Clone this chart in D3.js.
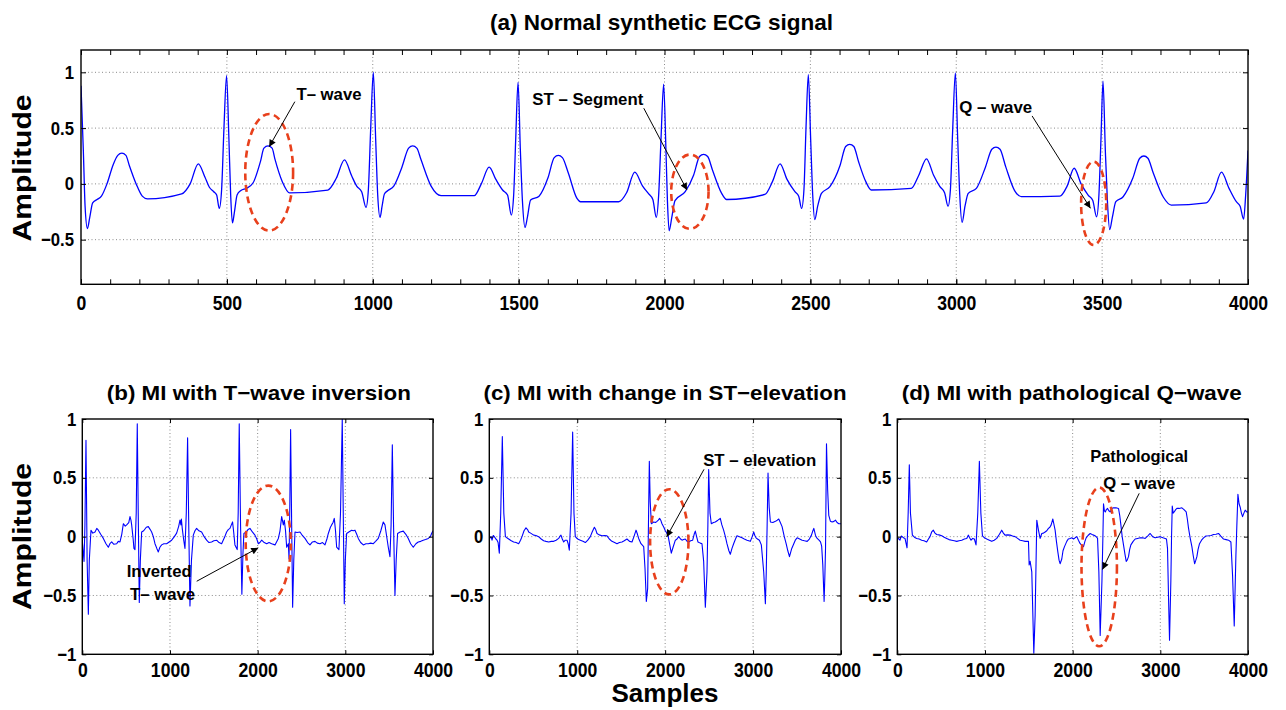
<!DOCTYPE html>
<html><head><meta charset="utf-8">
<script src="https://cdn.jsdelivr.net/npm/d3@7"></script>
<style>
body{margin:0;background:#fff;}
svg{display:block;font-family:"Liberation Sans",Arial,Helvetica,sans-serif;font-weight:bold;}
</style></head><body>
<svg id="chart" width="1286" height="710"></svg>
<script>
// ---------------- DATA ----------------
// (a) Normal synthetic ECG: [sample, amplitude]
const ecgNormal = [[0,0.88],[8,0.3],[14,-0.2],[22,-0.40],[30,-0.3],[40,-0.17],[55,-0.14],[70,-0.11],[89,0],[110,0.17],[126,0.255],[140,0.275],[154,0.255],[165,0.17],[189,0],[210,-0.11],[228,-0.135],[345,-0.09],[374,0],[402,0.18],[425,0.06],[440,-0.03],[455,-0.07],[465,-0.1],[474,-0.22],[482,-0.05],[490,0.5],[499,0.97],[507,0.4],[513,-0.1],[519,-0.35],[526,-0.25],[535,-0.1],[548,-0.06],[567,-0.04],[590,0.01],[615,0.2],[627,0.32],[641,0.34],[655,0.32],[665,0.22],[690,0.02],[715,-0.08],[846,-0.055],[875,0.05],[903,0.215],[928,0.07],[945,-0.02],[962,-0.07],[977,-0.21],[985,-0.05],[993,0.5],[1002,1.0],[1010,0.4],[1017,-0.1],[1025,-0.30],[1032,-0.2],[1040,-0.09],[1052,-0.06],[1072,-0.02],[1100,0.15],[1123,0.32],[1137,0.34],[1151,0.32],[1165,0.22],[1200,-0.02],[1234,-0.105],[1348,-0.105],[1372,0],[1399,0.15],[1422,0.04],[1445,-0.055],[1462,-0.1],[1475,-0.28],[1483,-0.1],[1490,0.4],[1498,0.91],[1506,0.3],[1513,-0.15],[1522,-0.39],[1530,-0.3],[1541,-0.145],[1570,-0.11],[1600,0.05],[1622,0.235],[1636,0.255],[1650,0.235],[1670,0.1],[1700,-0.13],[1712,-0.16],[1843,-0.16],[1870,-0.08],[1898,0.105],[1925,-0.02],[1946,-0.09],[1960,-0.14],[1972,-0.30],[1980,-0.1],[1988,0.4],[1997,0.895],[2005,0.3],[2010,-0.15],[2016,-0.42],[2025,-0.3],[2036,-0.15],[2071,-0.07],[2100,0.08],[2120,0.245],[2134,0.265],[2148,0.245],[2165,0.12],[2195,-0.08],[2213,-0.14],[2344,-0.095],[2370,0.02],[2396,0.18],[2420,0.04],[2447,-0.07],[2460,-0.11],[2470,-0.22],[2478,-0.05],[2485,0.5],[2493,0.98],[2501,0.4],[2508,-0.1],[2515,-0.32],[2525,-0.2],[2538,-0.085],[2567,-0.025],[2601,0.16],[2621,0.335],[2635,0.355],[2649,0.335],[2665,0.2],[2690,0.02],[2709,-0.055],[2846,-0.04],[2872,0.08],[2898,0.225],[2922,0.08],[2944,-0.025],[2960,-0.08],[2972,-0.20],[2980,-0.05],[2988,0.5],[2997,0.995],[3005,0.4],[3012,-0.1],[3020,-0.345],[3030,-0.2],[3041,-0.085],[3069,-0.04],[3100,0.15],[3122,0.31],[3136,0.33],[3150,0.31],[3170,0.15],[3200,-0.06],[3223,-0.115],[3355,-0.11],[3380,-0.02],[3404,0.14],[3428,0.0],[3452,-0.10],[3468,-0.15],[3481,-0.295],[3489,-0.1],[3496,0.4],[3503,0.92],[3511,0.3],[3518,-0.15],[3526,-0.41],[3535,-0.3],[3547,-0.16],[3572,-0.115],[3605,0.05],[3629,0.23],[3643,0.25],[3657,0.23],[3675,0.1],[3710,-0.12],[3737,-0.19],[3857,-0.17],[3883,-0.07],[3909,0.105],[3935,-0.04],[3960,-0.16],[3973,-0.2],[3985,-0.315],[3992,-0.1],[4000,0.3]];

// (b) MI with T-wave inversion
const ecgTInversion = [[0,-0.04],[4,-0.07],[20,-0.21],[30,0.1],[42,0.82],[55,-0.2],[69,-0.66],[80,-0.2],[99,0.055],[120,0.03],[145,0.04],[165,0.07],[183,0.055],[210,0.02],[240,-0.015],[270,-0.06],[297,-0.09],[315,-0.06],[335,-0.045],[360,-0.065],[392,-0.06],[410,-0.04],[430,-0.045],[450,0.02],[468,0.11],[490,0.09],[506,0.1],[530,0.12],[544,0.17],[555,0.14],[563,0.1],[580,-0.02],[589,-0.1],[601,-0.11],[615,0.2],[627,0.96],[638,0.2],[650,-0.56],[662,-0.2],[677,0.04],[700,0.05],[730,0.08],[753,0.085],[775,0.06],[791,0.04],[810,0],[829,-0.06],[850,-0.1],[867,-0.13],[885,-0.09],[905,-0.07],[930,-0.06],[962,-0.06],[990,-0.045],[1019,-0.03],[1050,0],[1076,0.03],[1100,0.09],[1114,0.14],[1125,0.1],[1130,0.15],[1140,0.07],[1155,-0.02],[1171,-0.1],[1186,0.2],[1201,0.84],[1214,0.1],[1228,-0.59],[1245,-0.2],[1266,0.013],[1285,0.05],[1304,0.07],[1330,0.05],[1361,0.04],[1390,0],[1418,-0.03],[1445,-0.05],[1475,-0.045],[1500,-0.035],[1532,-0.03],[1560,-0.05],[1589,-0.06],[1620,-0.01],[1646,0.04],[1665,0.06],[1684,0.07],[1700,0.1],[1714,0.125],[1725,0.05],[1741,-0.07],[1767,-0.11],[1778,0.2],[1790,0.96],[1805,0.1],[1820,-0.49],[1832,-0.15],[1843,0.027],[1870,0.04],[1890,0.06],[1912,0.07],[1940,0.04],[1969,0.013],[1990,-0.02],[2008,-0.06],[2026,-0.05],[2046,-0.03],[2075,-0.05],[2103,-0.06],[2130,-0.05],[2160,-0.06],[2198,-0.07],[2236,-0.015],[2255,0.05],[2274,0.17],[2293,0.1],[2304,0.14],[2318,0.05],[2331,-0.09],[2350,-0.06],[2358,-0.19],[2366,0.2],[2376,0.91],[2388,0.1],[2399,-0.6],[2412,-0.2],[2426,0.04],[2450,0.035],[2483,0.04],[2510,0.01],[2540,-0.015],[2570,-0.05],[2597,-0.07],[2625,-0.045],[2654,-0.04],[2680,-0.055],[2711,-0.06],[2740,-0.05],[2768,-0.07],[2790,-0.02],[2806,0.027],[2830,0.08],[2844,0.1],[2860,0.12],[2874,0.155],[2888,0.05],[2901,-0.09],[2927,-0.11],[2945,0.2],[2965,1.0],[2978,0.1],[2988,-0.57],[3000,-0.2],[3015,0.027],[3040,0.04],[3072,0.055],[3090,0.05],[3110,0.055],[3130,0.02],[3148,-0.015],[3175,-0.05],[3205,-0.07],[3235,-0.06],[3262,-0.06],[3290,-0.055],[3319,-0.06],[3345,-0.04],[3376,-0.015],[3405,0.05],[3433,0.125],[3452,0.1],[3470,0.01],[3490,-0.09],[3509,-0.17],[3522,0.1],[3536,0.78],[3550,0.1],[3566,-0.5],[3580,-0.2],[3596,0.027],[3625,0.04],[3661,0.047],[3690,0.02],[3718,-0.015],[3745,-0.06],[3775,-0.09],[3805,-0.06],[3832,-0.045],[3860,-0.04],[3889,-0.03],[3915,-0.025],[3946,-0.015],[3970,0],[3984,0.027],[4000,0.05]];

// (c) MI with change in ST-elevation
const ecgSTElevation = [[0,-0.01],[4,-0.015],[20,0],[31,-0.03],[45,0.01],[57,0],[75,-0.02],[88,-0.03],[100,-0.05],[114,-0.14],[130,0.2],[148,0.85],[165,0.2],[183,0],[200,-0.01],[220,-0.02],[250,-0.035],[277,-0.045],[305,-0.05],[334,-0.06],[355,-0.03],[372,0],[395,0.05],[417,0.075],[435,0.06],[448,0.04],[470,0.03],[505,0.013],[530,0.01],[561,0],[590,-0.02],[618,-0.035],[645,-0.04],[675,-0.045],[705,-0.04],[732,-0.04],[760,-0.03],[789,-0.015],[800,0],[815,0.013],[830,-0.02],[846,-0.045],[865,-0.03],[884,-0.03],[897,-0.06],[910,-0.115],[930,0.2],[948,0.89],[963,0.2],[978,0],[1005,-0.02],[1035,-0.03],[1065,-0.04],[1092,-0.05],[1120,-0.03],[1149,0],[1170,0.04],[1195,0.08],[1210,0.06],[1225,0.027],[1250,0.015],[1282,0.007],[1310,0.01],[1338,0.007],[1365,-0.02],[1395,-0.04],[1425,-0.05],[1452,-0.06],[1480,-0.05],[1509,-0.045],[1535,-0.035],[1566,-0.02],[1595,-0.04],[1623,-0.045],[1645,0],[1669,0.055],[1685,0.02],[1699,-0.015],[1725,-0.06],[1756,-0.085],[1771,-0.27],[1786,-0.55],[1801,-0.44],[1810,0.1],[1820,0.64],[1830,0.3],[1843,0.11],[1869,0.125],[1890,0.12],[1907,0.13],[1922,0.14],[1937,0.155],[1950,0.14],[1964,0.11],[1985,0.08],[2002,0.05],[2032,0.013],[2050,-0.06],[2070,-0.14],[2090,-0.09],[2116,-0.03],[2135,-0.02],[2154,0],[2175,-0.02],[2192,-0.03],[2210,-0.025],[2229,-0.02],[2250,-0.04],[2267,-0.045],[2290,-0.035],[2313,-0.03],[2330,0.02],[2343,0.047],[2358,0],[2373,-0.045],[2400,-0.055],[2419,-0.06],[2438,-0.21],[2457,-0.6],[2476,-0.3],[2486,0.1],[2495,0.57],[2510,0.2],[2525,0.11],[2550,0.12],[2570,0.125],[2600,0.14],[2627,0.155],[2645,0.1],[2665,0.055],[2685,0],[2703,-0.06],[2725,-0.12],[2741,-0.15],[2760,-0.1],[2779,-0.06],[2800,-0.02],[2817,0.007],[2845,0],[2874,-0.01],[2900,-0.02],[2931,-0.03],[2950,-0.035],[2969,-0.04],[2990,0],[3007,0.04],[3020,0.01],[3034,-0.01],[3050,-0.02],[3072,-0.03],[3094,-0.07],[3121,-0.3],[3140,-0.57],[3150,-0.3],[3160,0.1],[3170,0.54],[3183,0.25],[3197,0.125],[3225,0.12],[3254,0.13],[3275,0.14],[3292,0.15],[3310,0.12],[3330,0.085],[3355,0],[3376,-0.06],[3395,-0.12],[3414,-0.17],[3440,-0.1],[3463,-0.06],[3480,-0.03],[3501,-0.01],[3530,-0.02],[3558,-0.03],[3585,-0.035],[3615,-0.04],[3640,-0.02],[3664,0.013],[3680,0.05],[3691,0.07],[3710,0.01],[3729,-0.015],[3750,-0.03],[3767,-0.045],[3780,-0.08],[3793,-0.24],[3808,-0.55],[3816,-0.35],[3824,-0.1],[3835,0.79],[3848,0.4],[3861,0.18],[3880,0.13],[3899,0.125],[3920,0.13],[3937,0.14],[3955,0.12],[3975,0.11],[4000,0.11]];

// (d) MI with pathological Q-wave
const ecgPathQ = [[0,-0.01],[4,-0.01],[18,-0.02],[31,-0.03],[45,0.005],[57,0],[70,-0.01],[88,-0.015],[111,-0.095],[124,0.2],[137,0.61],[150,0.2],[172,0.013],[195,-0.005],[221,-0.015],[250,-0.02],[278,-0.03],[305,-0.035],[335,-0.045],[355,-0.02],[373,0],[392,0.04],[411,0.055],[430,0.03],[449,0.018],[475,0.015],[507,0.007],[535,-0.005],[563,-0.015],[590,-0.025],[620,-0.03],[650,-0.035],[678,-0.04],[705,-0.035],[735,-0.03],[765,-0.02],[792,-0.015],[811,0.013],[825,-0.01],[841,-0.03],[860,-0.015],[879,-0.02],[898,-0.07],[918,0.2],[936,0.64],[953,0.2],[971,0.007],[995,-0.01],[1020,-0.02],[1050,-0.03],[1077,-0.04],[1105,-0.03],[1134,-0.015],[1165,0.02],[1191,0.055],[1210,0.03],[1229,0.013],[1260,0.015],[1287,0.013],[1315,0.005],[1343,0],[1372,-0.015],[1401,-0.03],[1430,-0.035],[1458,-0.04],[1496,-0.04],[1504,-0.24],[1515,-0.21],[1534,-0.3],[1557,-0.99],[1572,-0.67],[1591,0.14],[1610,0.055],[1629,-0.015],[1648,0.027],[1667,0.03],[1686,0.04],[1705,0.05],[1724,0.07],[1740,0.08],[1755,0.1],[1774,0.15],[1800,0.055],[1815,-0.04],[1831,-0.13],[1845,-0.2],[1857,-0.23],[1876,-0.19],[1890,-0.12],[1907,-0.085],[1933,-0.04],[1950,-0.02],[1971,-0.015],[1990,-0.01],[2010,-0.02],[2028,-0.01],[2048,0],[2066,-0.03],[2086,-0.06],[2105,-0.075],[2124,-0.085],[2140,-0.04],[2154,-0.01],[2175,0.01],[2200,0.027],[2230,0.015],[2257,0.007],[2275,-0.005],[2284,-0.015],[2299,-0.3],[2314,-0.84],[2334,-0.38],[2345,0],[2352,0.28],[2362,0.22],[2372,0.21],[2385,0.23],[2398,0.24],[2413,0.22],[2428,0.21],[2447,0.24],[2466,0.245],[2495,0.245],[2523,0.24],[2537,0.18],[2550,0.1],[2565,0],[2580,-0.07],[2597,-0.15],[2611,-0.21],[2622,-0.2],[2637,-0.17],[2650,-0.11],[2664,-0.07],[2690,-0.04],[2713,-0.02],[2740,-0.015],[2770,-0.01],[2800,-0.01],[2827,-0.015],[2855,0.005],[2884,0.027],[2912,0],[2941,-0.01],[2970,-0.005],[2998,0],[3030,-0.01],[3055,-0.015],[3070,-0.02],[3082,-0.1],[3094,-0.53],[3105,-0.88],[3120,-0.38],[3128,0],[3136,0.26],[3146,0.2],[3158,0.21],[3175,0.23],[3189,0.24],[3215,0.24],[3246,0.245],[3270,0.23],[3295,0.21],[3308,0.15],[3322,0.07],[3340,-0.01],[3360,-0.085],[3375,-0.16],[3391,-0.23],[3405,-0.2],[3417,-0.17],[3430,-0.11],[3447,-0.06],[3470,-0.03],[3493,-0.01],[3520,0.005],[3550,0.007],[3580,0.01],[3607,0.018],[3635,0.02],[3664,0.027],[3690,0.005],[3721,-0.02],[3750,-0.025],[3778,-0.03],[3805,-0.045],[3824,-0.33],[3843,-0.76],[3862,-0.16],[3873,0.1],[3885,0.36],[3898,0.28],[3911,0.25],[3925,0.2],[3938,0.17],[3953,0.2],[3968,0.225],[3985,0.21],[4000,0.21]];

// Tick values / labels
const topXTicks = [0,500,1000,1500,2000,2500,3000,3500,4000];
const topXMinorTicks = [0,100,200,300,400,500,600,700,800,900,1000,1100,1200,1300,1400,1500,1600,1700,1800,1900,2000,2100,2200,2300,2400,2500,2600,2700,2800,2900,3000,3100,3200,3300,3400,3500,3600,3700,3800,3900,4000];
const topYTicks = [-0.5,0,0.5,1];
const bottomXTicks = [0,1000,2000,3000,4000];
const bottomYTicks = [-1,-0.5,0,0.5,1];

// Titles and labels
const titles = ["(a) Normal synthetic ECG signal","(b) MI with T\u2212wave inversion","(c) MI with change in ST\u2212elevation","(d) MI with pathological Q\u2212wave"];
const yLabel = "Amplitude";
const xLabel = "Samples";

// Annotations in data coordinates: ellipses [cx, cy, rxSamples, ryAmp], arrows [x1,y1,x2,y2], texts [x, y, text, width]
const annA = {
  ellipses:[[645,0.104,82,0.523],[2087,-0.07,64,0.333],[3471,-0.174,43,0.374]],
  arrows:[[733,0.737,645,0.333],[1929,0.678,2077,-0.055],[3260,0.609,3460,-0.219]],
  texts:[[850,0.752,"T\u2013 wave",65],[1737,0.707,"ST \u2013 Segment",111],[3135,0.638,"Q \u2013 wave",73]]
};
const annB = {
  ellipses:[[2121,-0.058,257,0.492]],
  arrows:[[1305,-0.379,2007,-0.095]],
  texts:[[877,-0.347,"Inverted",65],[915,-0.54,"T\u2013 wave",65]]
};
const annC = {
  ellipses:[[2047,-0.044,218,0.447]],
  arrows:[[2442,0.572,2017,-0.002]],
  texts:[[3075,0.6,"ST \u2013 elevation",113]]
};
const annD = {
  ellipses:[[2303,-0.257,202,0.675]],
  arrows:[[2759,0.368,2340,-0.279]],
  texts:[[2759,0.634,"Pathological",98],[2759,0.404,"Q \u2013 wave",72]]
};

// ---------------- DRAWING ----------------
const svg = d3.select('#chart');
const defs = svg.append('defs');
defs.append('marker').attr('id','arrowHead').attr('viewBox','0 0 10 10')
  .attr('refX',10).attr('refY',5).attr('markerWidth',9).attr('markerHeight',7)
  .attr('markerUnits','userSpaceOnUse').attr('orient','auto')
  .append('path').attr('d','M0,0 L10,5 L0,10 Z').attr('fill','#000');

function squeeze(sel, f){
  sel.each(function(){
    const w = this.getComputedTextLength();
    d3.select(this).attr('textLength', w*f).attr('lengthAdjust','spacingAndGlyphs');
  });
}

let clipId = 0;
function panel(cfg){
  const x = d3.scaleLinear().domain(cfg.xDomain).range([cfg.left, cfg.right]);
  const y = d3.scaleLinear().domain(cfg.yDomain).range([cfg.bottom, cfg.top]);
  const g = svg.append('g');
  const id = 'clip' + (clipId++);
  defs.append('clipPath').attr('id', id).append('rect')
    .attr('x', cfg.left).attr('y', cfg.top)
    .attr('width', cfg.right-cfg.left).attr('height', cfg.bottom-cfg.top);

  // grid
  g.selectAll('.gx').data(cfg.gridX).join('line')
    .attr('x1', d=>x(d)).attr('x2', d=>x(d)).attr('y1', cfg.top).attr('y2', cfg.bottom)
    .attr('stroke','#8a8a8a').attr('stroke-width',1).attr('stroke-dasharray','1,2.5');
  g.selectAll('.gy').data(cfg.gridY).join('line')
    .attr('y1', d=>y(d)).attr('y2', d=>y(d)).attr('x1', cfg.left).attr('x2', cfg.right)
    .attr('stroke','#8a8a8a').attr('stroke-width',1).attr('stroke-dasharray','1,2.5');

  // signal
  const line = d3.line().x(d=>x(d[0])).y(d=>y(d[1])).curve(cfg.curve);
  g.append('path').datum(cfg.data).attr('d', line)
    .attr('fill','none').attr('stroke','#0000ff').attr('stroke-width', cfg.lw)
    .attr('stroke-linejoin','round').attr('clip-path','url(#'+id+')');

  // axes
  const tk = cfg.tick;
  const bx = g.append('g').attr('transform','translate(0,'+cfg.bottom+')')
    .call(d3.axisBottom(x).tickValues(cfg.xTicks).tickSizeInner(-tk).tickSizeOuter(0).tickPadding(cfg.xPad).tickFormat(d3.format('d')));
  const tx = g.append('g').attr('transform','translate(0,'+cfg.top+')')
    .call(d3.axisTop(x).tickValues(cfg.xTickMarks).tickSizeInner(-tk).tickSizeOuter(0).tickFormat(''));
  if (cfg.xTickMarks !== cfg.xTicks) {
    g.append('g').attr('transform','translate(0,'+cfg.bottom+')')
      .call(d3.axisBottom(x).tickValues(cfg.xTickMarks).tickSizeInner(-tk).tickSizeOuter(0).tickFormat(''))
      .call(a=>a.select('.domain').remove());
  }
  const ly = g.append('g').attr('transform','translate('+cfg.left+',0)')
    .call(d3.axisLeft(y).tickValues(cfg.yTicks).tickSizeInner(-tk).tickSizeOuter(0).tickPadding(cfg.yPad).tickFormat(d3.format('')));
  const ry = g.append('g').attr('transform','translate('+cfg.right+',0)')
    .call(d3.axisRight(y).tickValues(cfg.yTicks).tickSizeInner(-tk).tickSizeOuter(0).tickFormat(''));
  [bx,tx,ly,ry].forEach(a=>{
    a.select('.domain').remove();
    a.selectAll('line').attr('stroke','#000').attr('stroke-width',1);
    a.selectAll('text').attr('fill','#000').style('font-weight','bold');
  });
  bx.selectAll('text').style('font-size','21px');
  squeeze(bx.selectAll('text'), 0.84);
  ly.selectAll('text').style('font-size','19px');
  squeeze(ly.selectAll('text'), 0.88);

  // frame
  g.append('rect').attr('x',cfg.left).attr('y',cfg.top)
    .attr('width',cfg.right-cfg.left).attr('height',cfg.bottom-cfg.top)
    .attr('fill','none').attr('stroke','#000').attr('stroke-width',1.4);

  // title
  g.append('text').attr('x', cfg.titleX).attr('y', cfg.titleY)
    .attr('text-anchor','middle').style('font-size', cfg.titleSize+'px')
    .attr('textLength', cfg.titleW).attr('lengthAdjust','spacingAndGlyphs')
    .text(cfg.title);

  // annotations
  const an = cfg.ann;
  g.selectAll('.ell').data(an.ellipses).join('ellipse')
    .attr('cx', d=>x(d[0])).attr('cy', d=>y(d[1]))
    .attr('rx', d=>x(d[0]+d[2])-x(d[0])).attr('ry', d=>y(d[1])-y(d[1]+d[3]))
    .attr('fill','none').attr('stroke','#e8401c').attr('stroke-width',2.6)
    .attr('stroke-dasharray','7,4.5');
  g.selectAll('.arr').data(an.arrows).join('line')
    .attr('x1', d=>x(d[0])).attr('y1', d=>y(d[1])).attr('x2', d=>x(d[2])).attr('y2', d=>y(d[3]))
    .attr('stroke','#000').attr('stroke-width',1).attr('marker-end','url(#arrowHead)');
  g.selectAll('.atx').data(an.texts).join('text')
    .attr('x', d=>x(d[0])).attr('y', d=>y(d[1])).attr('text-anchor','middle')
    .style('font-size','17px').attr('textLength', d=>d[3]).attr('lengthAdjust','spacingAndGlyphs')
    .text(d=>d[2]);
  return {x,y};
}

// (a)
panel({left:81, right:1248, top:50, bottom:284.3, xDomain:[0,4000], yDomain:[-0.9,1.2],
  xTicks: topXTicks, xTickMarks: topXMinorTicks, yTicks: topYTicks,
  gridX:[500,1000,1500,2000,2500,3000,3500], gridY: topYTicks,
  data: ecgNormal, curve: d3.curveMonotoneX, lw:1.3, tick:5, xPad:11, yPad:7,
  title: titles[0], titleY:30, titleSize:22, titleW:343, titleX:661.5, ann: annA});

const bottomCommon = {top:419, bottom:654.3, xDomain:[0,4000], yDomain:[-1,1],
  xTicks: bottomXTicks, xTickMarks: bottomXTicks, yTicks: bottomYTicks,
  gridX:[1000,2000,3000], gridY:[-0.5,0,0.5], curve: d3.curveLinear, lw:1.1, tick:4, xPad:8, yPad:6,
  titleY:400, titleSize:21};
panel(Object.assign({}, bottomCommon, {left:82.3, right:433, data: ecgTInversion,
  title: titles[1], titleW:304, titleX:258.8, ann: annB}));
panel(Object.assign({}, bottomCommon, {left:489.3, right:841, data: ecgSTElevation,
  title: titles[2], titleW:363, titleX:665, ann: annC}));
panel(Object.assign({}, bottomCommon, {left:897.3, right:1248, data: ecgPathQ,
  title: titles[3], titleW:340, titleX:1071.7, ann: annD}));

// axis labels
svg.append('text').attr('transform','translate(31,168) rotate(-90)')
  .attr('text-anchor','middle').style('font-size','25px')
  .attr('textLength',147).attr('lengthAdjust','spacingAndGlyphs').text(yLabel);
svg.append('text').attr('transform','translate(31,536.5) rotate(-90)')
  .attr('text-anchor','middle').style('font-size','25px')
  .attr('textLength',147).attr('lengthAdjust','spacingAndGlyphs').text(yLabel);
svg.append('text').attr('x',665).attr('y',702)
  .attr('text-anchor','middle').style('font-size','25px')
  .attr('textLength',107).attr('lengthAdjust','spacingAndGlyphs').text(xLabel);
</script>
</body></html>
